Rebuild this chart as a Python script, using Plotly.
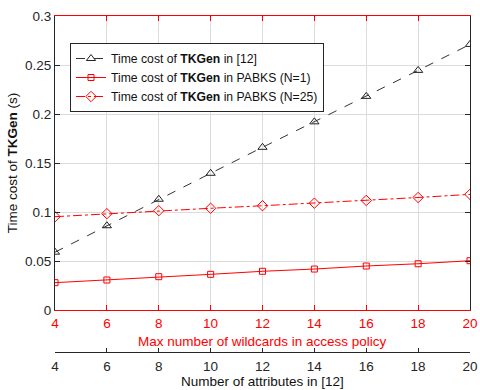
import plotly.graph_objects as go

x_vals = [4, 6, 8, 10, 12, 14, 16, 18, 20]
tkgen_ref12 = [0.059, 0.086, 0.113, 0.1395, 0.166, 0.192, 0.218, 0.2445, 0.271]
tkgen_pabks_n1 = [0.0279, 0.0306, 0.034, 0.0364, 0.0395, 0.0418, 0.0449, 0.0472, 0.0503]
tkgen_pabks_n25 = [0.0952, 0.0983, 0.1013, 0.1038, 0.1064, 0.109, 0.1118, 0.1148, 0.118]
y_ticks = [0, 0.05, 0.1, 0.15, 0.2, 0.25, 0.3]
y_tick_labels = ["0", "0.05", "0.1", "0.15", "0.2", "0.25", "0.3"]

FONT = "Liberation Sans, Arial, sans-serif"
RED = "#ff0000"
DARK = "#262626"

fig = go.Figure()
fig.add_trace(go.Scatter(
    x=x_vals, y=tkgen_ref12, xaxis="x2", yaxis="y",
    mode="lines+markers", name="Time cost of <b>TKGen</b> in [12]",
    line=dict(color="#333333", width=1, dash="dash"),
    marker=dict(symbol="triangle-up-open", size=8, color="#222222", line=dict(width=1)),
))
fig.add_trace(go.Scatter(
    x=x_vals, y=tkgen_pabks_n1,
    mode="lines+markers", name="Time cost of <b>TKGen</b> in PABKS (N=1)",
    line=dict(color=RED, width=1),
    marker=dict(symbol="square-open", size=6, color=RED, line=dict(width=1)),
))
fig.add_trace(go.Scatter(
    x=x_vals, y=tkgen_pabks_n25,
    mode="lines+markers", name="Time cost of <b>TKGen</b> in PABKS (N=25)",
    line=dict(color=RED, width=1, dash="dashdot"),
    marker=dict(symbol="diamond-open", size=8, color=RED, line=dict(width=1)),
))

W, H = 480, 390
PL, PR, PT, PB = 55, 470, 16, 310      # plot area (pixels)
AX2 = 352                              # black axis line (pixels)
paper_h = AX2 - PT
ydom0 = (AX2 - PB) / paper_h

def py(y):
    return (AX2 - y) / paper_h

fig.update_layout(
    width=W, height=H,
    margin=dict(l=PL, r=W - PR, t=PT, b=H - AX2, autoexpand=False),
    paper_bgcolor="white", plot_bgcolor="white",
    font=dict(family=FONT, size=13, color=DARK),
    showlegend=True,
    legend=dict(
        x=(70 - PL) / (PR - PL), y=py(43), xanchor="left", yanchor="top",
        bgcolor="white", bordercolor=DARK, borderwidth=1,
        font=dict(family=FONT, size=12.2, color="#111111"),
        tracegroupgap=0, itemwidth=30,
    ),
    xaxis=dict(
        domain=[0, 1], range=[4, 20], anchor="y",
        tickvals=x_vals, ticktext=[str(v) for v in x_vals],
        tickfont=dict(color=RED, size=13.5), ticklabelstandoff=1,
        linecolor=RED, linewidth=1, mirror="ticks",
        ticks="inside", ticklen=5, tickcolor=RED,
        showgrid=True, gridcolor="#dcdcdc", gridwidth=1,
        zeroline=False,
    ),
    xaxis2=dict(
        range=[4, 20], overlaying="x", anchor="free", position=0, side="bottom",
        tickvals=x_vals, ticktext=[str(v) for v in x_vals],
        tickfont=dict(color=DARK, size=13.5), ticklabelstandoff=2,
        linecolor=DARK, linewidth=1, showline=True,
        ticks="inside", ticklen=4, tickcolor=DARK,
        showgrid=False, zeroline=False,
    ),
    yaxis=dict(
        domain=[ydom0, 1], range=[0, 0.3],
        tickvals=y_ticks, ticktext=y_tick_labels,
        tickfont=dict(color=DARK, size=13.5),
        linecolor=DARK, linewidth=1, mirror="ticks",
        ticks="inside", ticklen=5, tickcolor=DARK,
        showgrid=True, gridcolor="#dcdcdc", gridwidth=1,
        zeroline=False,
        title=dict(text="Time cost of <b>TKGen</b> (s)", font=dict(color="#111111", size=13.5), standoff=4),
    ),
    annotations=[
        dict(text="Max number of wildcards in access policy", xref="paper", yref="paper",
             x=0.5, y=py(341), xanchor="center", yanchor="middle", showarrow=False,
             font=dict(family=FONT, color=RED, size=13.5)),
        dict(text="Number of attributes in [12]", xref="paper", yref="paper",
             x=0.5, y=py(381), xanchor="center", yanchor="middle", showarrow=False,
             font=dict(family=FONT, color="#111111", size=13.5)),
    ],
)

fig.write_html(
    "out.html",
    config={"displayModeBar": False},
    post_script="document.body.style.margin='0';document.body.style.overflow='hidden';",
)
